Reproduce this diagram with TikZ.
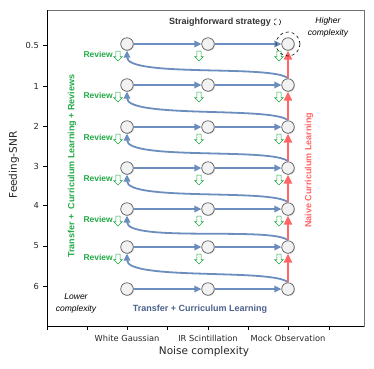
\documentclass[tikz,border=0pt]{standalone}
\usepackage{fontspec}
\setmainfont{Liberation Sans}
\newfontfamily\axfont{DejaVu Sans}
\usetikzlibrary{shapes, arrows.meta, positioning, calc, shadows}

\definecolor{flowblue}{RGB}{108,142,191}
\definecolor{naivered}{RGB}{255,102,102}
\definecolor{revgreen}{RGB}{36,170,72}
\definecolor{tlblue}{RGB}{76,97,140}

\begin{document}
\begin{tikzpicture}[x=1pt, y=-1pt]
            \tikzstyle{stage} = [draw=black!65, fill=black!5, circle, minimum size=12.5pt, inner sep=0pt, line width=0.7pt, drop shadow={shadow xshift=0.8pt, shadow yshift=-0.8pt, opacity=0.3}]
            \tikzstyle{flow} = [-{Triangle[length=7pt, width=6.5pt]}, flowblue, line width=1.8pt]
            \tikzstyle{naive} = [-{Triangle[length=9pt, width=8pt]}, naivered, line width=2.2pt]
            \tikzstyle{dnarrow} = [single arrow, draw=revgreen, fill=white, rotate=-90, minimum height=10pt, inner sep=1.8pt, single arrow head extend=2.2pt, line width=0.6pt]
            \tikzstyle{review} = [text=revgreen, font=\bfseries\fontsize{8.5}{9}\selectfont, inner sep=0pt]
            \tikzstyle{note} = [font=\itshape\fontsize{8.5}{12}\selectfont, align=center, inner sep=0pt]
            \tikzstyle{ticklab} = [font=\axfont\fontsize{8.3}{9}\selectfont, text=black!85, inner sep=0pt]
            \tikzstyle{strong} = [font=\bfseries\fontsize{9}{10}\selectfont, inner sep=0pt]

            \useasboundingbox (0,0) rectangle (374,368);

            % axes frame and ticks
            \draw[black!55, line width=0.7pt] (47,10) rectangle (364,326);
            \draw[black, line width=0.8pt] (47,10) -- (47,326) -- (364,326);
            \draw[black, line width=0.7pt] (43,45) -- (47,45) (43,86) -- (47,86) (43,126) -- (47,126) (43,166) -- (47,166) (43,205) -- (47,205) (43,246) -- (47,246) (43,286) -- (47,286);
            \draw[black, line width=0.7pt] (47,326) -- (47,330) (87,326) -- (87,330) (127,326) -- (127,330) (167,326) -- (167,330) (208,326) -- (208,330) (248,326) -- (248,330) (288,326) -- (288,330) (329,326) -- (329,330);

            \node[ticklab, anchor=east] (t05) at (39,45) {0.5};
            \node[ticklab, anchor=east] (t1) at (39,86) {1};
            \node[ticklab, anchor=east] (t2) at (39,126) {2};
            \node[ticklab, anchor=east] (t3) at (39,166) {3};
            \node[ticklab, anchor=east] (t4) at (39,205) {4};
            \node[ticklab, anchor=east] (t5) at (39,246) {5};
            \node[ticklab, anchor=east] (t6) at (39,286) {6};
            \node[ticklab] (xwg) at (127,338) {White Gaussian};
            \node[ticklab] (xir) at (208,338) {IR Scintillation};
            \node[ticklab] (xmo) at (288,338) {Mock Observation};
            \node[font=\axfont\fontsize{10.5}{12}\selectfont, text=black!85] (xlab) at (204,352) {Noise complexity};
            \node[font=\axfont\fontsize{10.5}{12}\selectfont, text=black!85, rotate=90] (ylab) at (14,165) {Feeding-SNR};

            % stages
            \node[stage] (w1) at (127,44) {};
            \node[stage] (s1) at (208,44) {};
            \node[stage] (m1) at (288,44) {};
            \node[stage] (w2) at (127,85) {};
            \node[stage] (s2) at (208,85) {};
            \node[stage] (m2) at (288,85) {};
            \node[stage] (w3) at (127,127) {};
            \node[stage] (s3) at (208,127) {};
            \node[stage] (m3) at (288,127) {};
            \node[stage] (w4) at (127,168) {};
            \node[stage] (s4) at (208,168) {};
            \node[stage] (m4) at (288,168) {};
            \node[stage] (w5) at (127,209) {};
            \node[stage] (s5) at (208,209) {};
            \node[stage] (m5) at (288,209) {};
            \node[stage] (w6) at (127,247) {};
            \node[stage] (s6) at (208,247) {};
            \node[stage] (m6) at (288,247) {};
            \node[stage] (w7) at (127,289) {};
            \node[stage] (s7) at (208,289) {};
            \node[stage] (m7) at (288,289) {};

            % transfer along noise
            \draw[flow] (w1) -- (s1);
            \draw[flow] (s1) -- (m1);
            \draw[flow] (w2) -- (s2);
            \draw[flow] (s2) -- (m2);
            \draw[flow] (w3) -- (s3);
            \draw[flow] (s3) -- (m3);
            \draw[flow] (w4) -- (s4);
            \draw[flow] (s4) -- (m4);
            \draw[flow] (w5) -- (s5);
            \draw[flow] (s5) -- (m5);
            \draw[flow] (w6) -- (s6);
            \draw[flow] (s6) -- (m6);
            \draw[flow] (w7) -- (s7);
            \draw[flow] (s7) -- (m7);

            % back to white gaussian at the next snr
            \draw[flow] (m2.north) .. controls +(-14,-14) and +(0,27) .. (w1.south);
            \draw[flow] (m3.north) .. controls +(-14,-14) and +(0,27) .. (w2.south);
            \draw[flow] (m4.north) .. controls +(-14,-14) and +(0,27) .. (w3.south);
            \draw[flow] (m5.north) .. controls +(-14,-14) and +(0,27) .. (w4.south);
            \draw[flow] (m6.north) .. controls +(-14,-14) and +(0,27) .. (w5.south);
            \draw[flow] (m7.north) .. controls +(-14,-14) and +(0,27) .. (w6.south);

            % naive curriculum
            \draw[naive] (m7) -- (m6);
            \draw[naive] (m6) -- (m5);
            \draw[naive] (m5) -- (m4);
            \draw[naive] (m4) -- (m3);
            \draw[naive] (m3) -- (m2);
            \draw[naive] (m2) -- (m1);

            % reviews
            \node[dnarrow] (dw1) at (118,55) {};
            \node[dnarrow] (ds1) at (199,55) {};
            \node[dnarrow] (dm1) at (279,55) {};
            \node[dnarrow] (dw2) at (118,96) {};
            \node[dnarrow] (ds2) at (199,96) {};
            \node[dnarrow] (dm2) at (279,96) {};
            \node[dnarrow] (dw3) at (118,138) {};
            \node[dnarrow] (ds3) at (199,138) {};
            \node[dnarrow] (dm3) at (279,138) {};
            \node[dnarrow] (dw4) at (118,179) {};
            \node[dnarrow] (ds4) at (199,179) {};
            \node[dnarrow] (dm4) at (279,179) {};
            \node[dnarrow] (dw5) at (118,220) {};
            \node[dnarrow] (ds5) at (199,220) {};
            \node[dnarrow] (dm5) at (279,220) {};
            \node[dnarrow] (dw6) at (118,258) {};
            \node[dnarrow] (ds6) at (199,258) {};
            \node[dnarrow] (dm6) at (279,258) {};
            \node[review, left=5pt of dw1.center, yshift=1pt] (rv1) {Review};
            \node[review, left=5pt of dw2.center, yshift=1pt] (rv2) {Review};
            \node[review, left=5pt of dw3.center, yshift=1pt] (rv3) {Review};
            \node[review, left=5pt of dw4.center, yshift=1pt] (rv4) {Review};
            \node[review, left=5pt of dw5.center, yshift=1pt] (rv5) {Review};
            \node[review, left=5pt of dw6.center, yshift=1pt] (rv6) {Review};

            % annotations
            \node[circle, draw, dashed, minimum size=24pt, line width=0.6pt] (hl) at (m1) {};
            \node[strong, text=black!80] (strat) at (220,22) {Straighforward strategy};
            \node[circle, draw, dashed, minimum size=7pt, inner sep=0pt, line width=0.5pt, right=2.5pt of strat] (lgd) {};
            \node[note] (hi) at (328,27) {Higher\\complexity};
            \node[note] (lo) at (76,303) {Lower\\complexity};
            \node[strong, text=tlblue] (tcl) at (200,309) {Transfer + Curriculum Learning};
            \node[strong, text=revgreen, rotate=90] (tcr) at (72,166) {Transfer + \;Curriculum Learning + Reviews};
            \node[strong, text=naivered, rotate=90] (ncl) at (309,170) {Naive Curriculum Learning};
\end{tikzpicture}
\end{document}
